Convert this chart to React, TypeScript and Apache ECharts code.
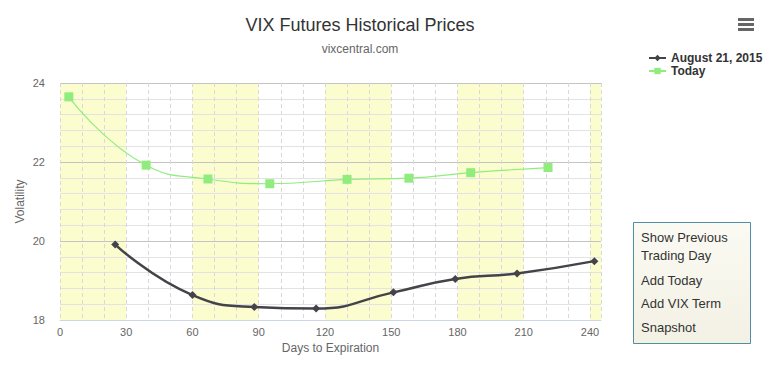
import React, { useEffect, useRef } from "react";
import * as echarts from "echarts";

const titleText = "VIX Futures Historical Prices";
const subtitleText = "vixcentral.com";
const seriesNames = ["August 21, 2015", "Today"];
const aug21Days = [25, 60, 88, 116, 151, 179, 207, 242];
const aug21Values = [19.91, 18.63, 18.33, 18.29, 18.7, 19.04, 19.18, 19.49];
const todayDays = [4, 39, 67, 95, 130, 158, 186, 221];
const todayValues = [23.65, 21.92, 21.57, 21.45, 21.56, 21.59, 21.73, 21.86];
const bandRanges = [
  [0, 30],
  [60, 90],
  [120, 150],
  [180, 210],
  [240, 270],
];
const menuItems = ["Show Previous", "Trading Day", "Add Today", "Add VIX Term", "Snapshot"];
const xMin = 0;
const xMax = 245;
const yMin = 18;
const yMax = 24;

const FONT = "'Liberation Sans', Arial, Helvetica, sans-serif";

export default function App() {
  const ref = useRef<HTMLDivElement>(null);
  useEffect(() => {
    document.body.style.margin = "0";
    const chart = echarts.init(ref.current!, null, { renderer: "svg" });
    const menuY = [237, 255, 280, 303, 327];
    chart.setOption({
      animation: false,
      textStyle: { fontFamily: FONT },
      title: [
        {
          text: titleText,
          left: 355,
          top: 11,
          textAlign: "center",
          textStyle: { fontSize: 18, fontWeight: "normal", color: "#333333", fontFamily: FONT },
        },
        {
          text: subtitleText,
          left: 355,
          top: 38,
          textAlign: "center",
          textStyle: { fontSize: 12, fontWeight: "normal", color: "#666666", fontFamily: FONT },
        },
      ],
      legend: {
        orient: "vertical",
        left: 643,
        top: 47,
        itemGap: 1,
        itemWidth: 17,
        itemHeight: 8,
        align: "left",
        textStyle: { fontSize: 12, fontWeight: "bold", color: "#333333", fontFamily: FONT },
        data: seriesNames,
      },
      grid: { left: 60, top: 83, right: 170, bottom: 45, containLabel: false },
      xAxis: {
        type: "value",
        min: xMin,
        max: xMax,
        interval: 30,
        name: "Days to Expiration",
        nameLocation: "middle",
        nameGap: 22,
        nameTextStyle: { fontSize: 12, color: "#666666", fontFamily: FONT },
        axisLine: { show: true, lineStyle: { color: "#ccd6eb" } },
        axisTick: { show: false },
        axisLabel: { fontSize: 11, color: "#666666", margin: 6, fontFamily: FONT },
        splitLine: { show: true, lineStyle: { color: "#d9d9d9", type: [4, 3], width: 1 } },
        minorTick: { show: false, splitNumber: 3 },
        minorSplitLine: { show: true, lineStyle: { color: "#d9d9d9", type: [4, 3], width: 1 } },
      },
      yAxis: {
        type: "value",
        min: yMin,
        max: yMax,
        interval: 2,
        name: "Volatility",
        nameLocation: "middle",
        nameGap: 34,
        nameMoveOverlap: false,
        nameRotate: 90,
        nameTextStyle: { fontSize: 12, color: "#666666", fontFamily: FONT },
        axisLine: { show: false },
        axisTick: { show: false },
        axisLabel: { fontSize: 11, color: "#666666", margin: 15, fontFamily: FONT },
        splitLine: { show: true, lineStyle: { color: "#c4c4c4", width: 1 } },
        minorTick: { show: false, splitNumber: 5 },
        minorSplitLine: { show: true, lineStyle: { color: "#e3e3e3", width: 1 } },
      },
      series: [
        {
          type: "custom",
          name: "bands",
          z: -1,
          silent: true,
          clip: true,
          data: bandRanges,
          renderItem: (params: any, api: any) => {
            const s = api.value(0);
            const e = Math.min(api.value(1), xMax);
            const p1 = api.coord([s, yMax]);
            const p2 = api.coord([e, yMin]);
            return {
              type: "rect",
              shape: { x: p1[0], y: p1[1], width: p2[0] - p1[0], height: p2[1] - p1[1] },
              style: { fill: "#fcfdcf" },
            };
          },
        },
        {
          type: "line",
          name: seriesNames[0],
          data: aug21Days.map((d, i) => [d, aug21Values[i]]),
          smooth: 0.5,
          symbol: "diamond",
          symbolSize: 8,
          z: 3,
          lineStyle: { color: "#434348", width: 2.5 },
          itemStyle: { color: "#434348" },
        },
        {
          type: "line",
          name: seriesNames[1],
          data: todayDays.map((d, i) => [d, todayValues[i]]),
          smooth: 0.5,
          symbol: "rect",
          symbolSize: 9,
          z: 2,
          lineStyle: { color: "#90ed7d", width: 1.2 },
          itemStyle: { color: "#90ed7d" },
        },
      ],
      graphic: [
        { type: "rect", shape: { x: 738, y: 18, width: 16, height: 3 }, style: { fill: "#666666" } },
        { type: "rect", shape: { x: 738, y: 23, width: 16, height: 3 }, style: { fill: "#666666" } },
        { type: "rect", shape: { x: 738, y: 28, width: 16, height: 3 }, style: { fill: "#666666" } },
        {
          type: "rect",
          shape: { x: 633.5, y: 222.5, width: 117, height: 121 },
          style: {
            fill: new echarts.graphic.LinearGradient(0, 0, 0, 1, [
              { offset: 0, color: "#fbfaf3" },
              { offset: 1, color: "#f3f1e4" },
            ]),
            stroke: "#4f8ea6",
            lineWidth: 1,
          },
        },
        ...menuItems.map((t, i) => ({
          type: "text",
          x: 641,
          y: menuY[i],
          style: {
            text: t,
            fontSize: 13,
            fill: "#333333",
            fontFamily: FONT,
            verticalAlign: "middle",
            align: "left",
          },
        })),
      ],
    });
    return () => chart.dispose();
  }, []);
  return <div ref={ref} style={{ width: 771, height: 365 }} />;
}
